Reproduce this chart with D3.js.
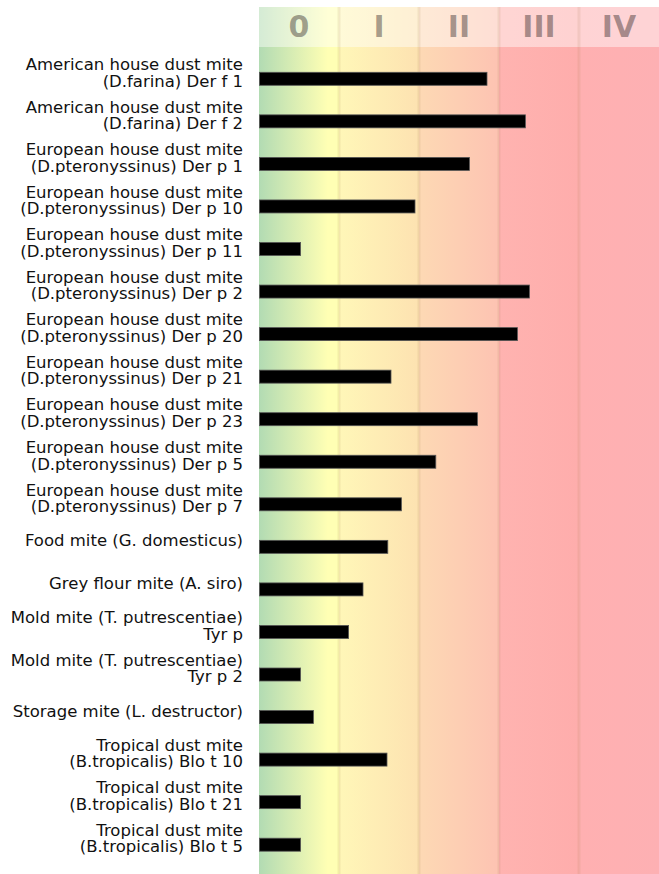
<!DOCTYPE html>
<html>
<head>
<meta charset="utf-8">
<script src="https://cdn.jsdelivr.net/npm/d3@7"></script>
<style>
  html, body { margin: 0; padding: 0; background: #fff; }
  svg { display: block; }
</style>
</head>
<body>
<script>
var w = 659;
var h = 874;

// allergen labels (lines as shown) and their score, in class units
var labels = [
    ["American house dust mite", "(D.farina) Der f 1"],
    ["American house dust mite", "(D.farina) Der f 2"],
    ["European house dust mite", "(D.pteronyssinus) Der p 1"],
    ["European house dust mite", "(D.pteronyssinus) Der p 10"],
    ["European house dust mite", "(D.pteronyssinus) Der p 11"],
    ["European house dust mite", "(D.pteronyssinus) Der p 2"],
    ["European house dust mite", "(D.pteronyssinus) Der p 20"],
    ["European house dust mite", "(D.pteronyssinus) Der p 21"],
    ["European house dust mite", "(D.pteronyssinus) Der p 23"],
    ["European house dust mite", "(D.pteronyssinus) Der p 5"],
    ["European house dust mite", "(D.pteronyssinus) Der p 7"],
    ["Food mite (G. domesticus)"],
    ["Grey flour mite (A. siro)"],
    ["Mold mite (T. putrescentiae)", "Tyr p"],
    ["Mold mite (T. putrescentiae)", "Tyr p 2"],
    ["Storage mite (L. destructor)"],
    ["Tropical dust mite", "(B.tropicalis) Blo t 10"],
    ["Tropical dust mite", "(B.tropicalis) Blo t 21"],
    ["Tropical dust mite", "(B.tropicalis) Blo t 5"]
];
var values = [2.85, 3.33, 2.63, 1.95, 0.52, 3.38, 3.23, 1.65, 2.73, 2.21, 1.78,
              1.61, 1.30, 1.12, 0.52, 0.68, 1.60, 0.52, 0.52];

var classNames = ["0", "I", "II", "III", "IV"];
// gradient colours inside each class band (left, right)
var classColors = [
    ["#b2dbb3", "#ffffb4"],
    ["#fff7b8", "#fde2b1"],
    ["#fdd9b4", "#fdc3b2"],
    ["#ffb3b0", "#feadac"],
    ["#ffb0b1", "#fdb0b3"]
];

var left = 259, top0 = 7, headH = 40;

var svg = d3.select("body").append("svg")
    .attr("width", w)
    .attr("height", h);

var x = d3.scaleLinear().domain([0, 5]).range([left, w]);
var y = d3.scaleBand()
    .domain(d3.range(labels.length))
    .range([47, 47 + labels.length * 42.55]);

var defs = svg.append("defs");
classColors.forEach(function(c, i) {
    var g = defs.append("linearGradient").attr("id", "cls" + i);
    g.append("stop").attr("offset", "0%").attr("stop-color", c[0]);
    g.append("stop").attr("offset", i == 0 ? "86%" : "100%").attr("stop-color", c[1]);
    if (i == 0) g.append("stop").attr("offset", "100%").attr("stop-color", c[1]);
});

// class bands
svg.selectAll("rect.band")
    .data(classNames)
    .enter().append("rect")
    .attr("class", "band")
    .attr("x", function(d, i) { return x(i); })
    .attr("y", top0)
    .attr("width", function(d, i) { return x(i + 1) - x(i); })
    .attr("height", h - top0)
    .attr("fill", function(d, i) { return "url(#cls" + i + ")"; });

// lighter header strip
svg.append("rect")
    .attr("x", left).attr("y", top0)
    .attr("width", w - left).attr("height", headH)
    .attr("fill", "#fff").attr("opacity", 0.45);

// class dividers
svg.selectAll("line.div")
    .data(d3.range(1, 5))
    .enter().append("line")
    .attr("x1", function(d) { return x(d); })
    .attr("x2", function(d) { return x(d); })
    .attr("y1", top0).attr("y2", h)
    .attr("stroke", "#a07850")
    .attr("stroke-opacity", 0.13)
    .attr("stroke-width", 3);

// class numerals
svg.selectAll("text.cls")
    .data(classNames)
    .enter().append("text")
    .attr("x", function(d, i) { return x(i + 0.5); })
    .attr("y", 37)
    .attr("text-anchor", "middle")
    .attr("font-family", "DejaVu Sans, sans-serif")
    .attr("font-weight", "bold")
    .attr("font-size", 30)
    .attr("fill", "#2a1e1e")
    .attr("fill-opacity", 0.42)
    .text(function(d) { return d; });

// bars
svg.selectAll("rect.bar")
    .data(values)
    .enter().append("rect")
    .attr("class", "bar")
    .attr("x", x(0) + 0.5)
    .attr("y", function(d, i) { return y(i) + 25.3; })
    .attr("width", function(d) { return x(d) - x(0) - 0.5; })
    .attr("height", 13)
    .attr("fill", "#000")
    .attr("stroke", "#555")
    .attr("stroke-width", 0.8);

// labels
var lab = svg.selectAll("text.lab")
    .data(labels)
    .enter().append("text")
    .attr("class", "lab")
    .attr("text-anchor", "end")
    .attr("font-family", "DejaVu Sans, sans-serif")
    .attr("font-size", 16.5)
    .attr("fill", "#111");

lab.each(function(lines, i) {
    var c = y(i) + 25.6;
    var t = d3.select(this);
    lines.forEach(function(s, k) {
        t.append("tspan")
            .attr("x", 243)
            .attr("y", c + (k - (lines.length - 1) / 2) * 16.5 + 5.7)
            .text(s);
    });
});
</script>
</body>
</html>
